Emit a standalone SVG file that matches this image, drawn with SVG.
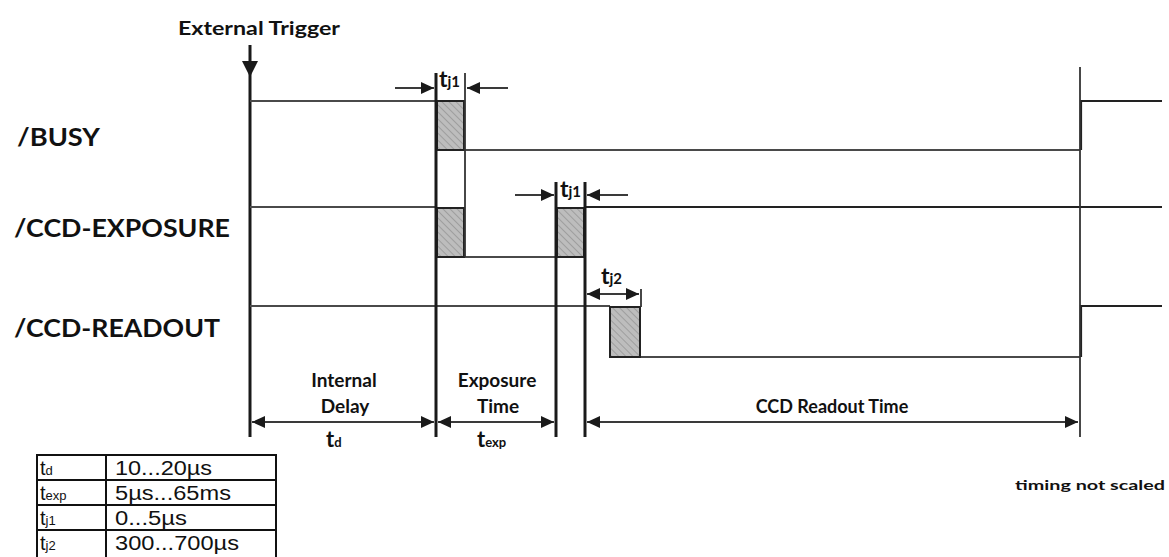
<svg xmlns="http://www.w3.org/2000/svg" width="1169" height="557" viewBox="0 0 1169 557">
<style>
.bg{fill:#fff}
.sig{stroke:#4a4a4a;stroke-width:2;fill:none}
.sigd{stroke:#222;stroke-width:2.2;fill:none}
.vl{stroke:#1a1a1a;stroke-width:3;fill:none}
.vt{stroke:#333;stroke-width:1.8;fill:none}
.dim{stroke:#3a3a3a;stroke-width:2;fill:none}
.hb{fill:url(#hatch);stroke:#222;stroke-width:2}
.lbl{font-family:Lato,"Open Sans","Liberation Sans",sans-serif;font-weight:bold;fill:#111}
.tj{font-family:Lato,"Liberation Sans",sans-serif;fill:#111;font-weight:bold}
.tab{font-family:"Liberation Sans",Arial,sans-serif;fill:#111}
.cell{fill:none;stroke:#111;stroke-width:2}
</style>
<defs>
<pattern id="hatch" patternUnits="userSpaceOnUse" width="5" height="5" patternTransform="rotate(-45)">
<rect width="5" height="5" fill="#bdbdbd"/>
<line x1="0" y1="0" x2="0" y2="5" stroke="#8a8a8a" stroke-width="1.2"/>
</pattern>
<marker id="ah" markerUnits="userSpaceOnUse" markerWidth="14" markerHeight="12" refX="13" refY="6" orient="auto-start-reverse">
<path d="M0,0 L13,6 L0,12 z" fill="#1a1a1a"/>
</marker>
</defs>
<rect class="bg" width="1169" height="557"/>

<g id="trigger">
<text class="lbl" x="178" y="35" font-size="19" textLength="162" lengthAdjust="spacingAndGlyphs">External Trigger</text>
<line class="vl" x1="250" y1="45" x2="250" y2="437"/>
<polygon points="242,61 258,61 250,77" fill="#1a1a1a"/>
</g>

<g id="labels">
<text class="lbl" x="17" y="146" font-size="25" textLength="83" lengthAdjust="spacingAndGlyphs">/BUSY</text>
<text class="lbl" x="14" y="237" font-size="25" textLength="216" lengthAdjust="spacingAndGlyphs">/CCD-EXPOSURE</text>
<text class="lbl" x="14" y="337" font-size="25" textLength="206" lengthAdjust="spacingAndGlyphs">/CCD-READOUT</text>
</g>

<g id="busy">
<line class="sig" x1="250" y1="101" x2="436" y2="101"/>
<rect class="hb" x="437" y="101" width="27" height="49"/>
<line class="sig" x1="465" y1="150" x2="1080" y2="150"/>
<polyline class="sigd" points="1081,150 1081,101 1162,101"/>
</g>

<g id="ccd-exposure">
<line class="sig" x1="250" y1="207" x2="436" y2="207"/>
<rect class="hb" x="437" y="208" width="27" height="49"/>
<line class="sig" x1="465" y1="257" x2="556" y2="257"/>
<rect class="hb" x="557" y="208" width="27" height="49"/>
<line class="sigd" x1="585" y1="207" x2="1162" y2="207"/>
</g>

<g id="ccd-readout">
<line class="sig" x1="250" y1="306" x2="610" y2="306"/>
<rect class="hb" x="610" y="307" width="30" height="50"/>
<line class="sig" x1="641" y1="357" x2="1080" y2="357"/>
<polyline class="sigd" points="1081,357 1081,306 1162,306"/>
</g>

<g id="connectors">
<line class="vl" x1="436" y1="73" x2="436" y2="437"/>
<line class="vt" x1="465" y1="73" x2="465" y2="257"/>
<line class="vl" x1="556" y1="182" x2="556" y2="437"/>
<line class="vl" x1="585" y1="182" x2="585" y2="437"/>
<line class="vt" x1="1080" y1="67" x2="1080" y2="437"/>
<line class="vt" x1="641" y1="289" x2="641" y2="307"/>
<line class="dim" x1="395" y1="88" x2="434" y2="88" marker-end="url(#ah)"/>
<line class="dim" x1="508" y1="88" x2="467" y2="88" marker-end="url(#ah)"/>
<line class="dim" x1="515" y1="195" x2="554" y2="195" marker-end="url(#ah)"/>
<line class="dim" x1="628" y1="195" x2="587" y2="195" marker-end="url(#ah)"/>
<line class="dim" x1="587" y1="294" x2="639" y2="294" marker-start="url(#ah)" marker-end="url(#ah)"/>
<line class="dim" x1="252" y1="422" x2="434" y2="422" marker-start="url(#ah)" marker-end="url(#ah)"/>
<line class="dim" x1="438" y1="422" x2="554" y2="422" marker-start="url(#ah)" marker-end="url(#ah)"/>
<line class="dim" x1="587" y1="422" x2="1078" y2="422" marker-start="url(#ah)" marker-end="url(#ah)"/>
</g>

<g id="jitter-labels">
<text class="tj" x="439" y="87" font-size="23">t<tspan font-size="15">j1</tspan></text>
<text class="tj" x="560" y="197" font-size="23">t<tspan font-size="15">j1</tspan></text>
<text class="tj" x="601" y="284" font-size="23">t<tspan font-size="15">j2</tspan></text>
</g>

<g id="interval-labels">
<text class="lbl" x="344" y="387" font-size="19" text-anchor="middle">Internal</text>
<text class="lbl" x="345" y="413" font-size="19" text-anchor="middle">Delay</text>
<text class="lbl" x="326" y="447" font-size="22">t<tspan font-size="13">d</tspan></text>
<text class="lbl" x="497" y="387" font-size="19" text-anchor="middle">Exposure</text>
<text class="lbl" x="498" y="413" font-size="19" text-anchor="middle">Time</text>
<text class="lbl" x="477" y="447" font-size="22">t<tspan font-size="13">exp</tspan></text>
<text class="lbl" x="832" y="413" font-size="18" text-anchor="middle">CCD Readout Time</text>
<text class="lbl" x="1015" y="490" font-size="14" textLength="150" lengthAdjust="spacingAndGlyphs">timing not scaled</text>
</g>

<g id="table">
<rect class="cell" x="37" y="455" width="239" height="120"/>
<line class="cell" x1="106" y1="455" x2="106" y2="575"/>
<line class="cell" x1="37" y1="480" x2="276" y2="480"/>
<line class="cell" x1="37" y1="505" x2="276" y2="505"/>
<line class="cell" x1="37" y1="530" x2="276" y2="530"/>
<text class="tab" x="40" y="475" font-size="20">t<tspan font-size="13">d</tspan></text>
<text class="tab" x="115" y="475" font-size="20" textLength="97" lengthAdjust="spacingAndGlyphs">10...20µs</text>
<text class="tab" x="40" y="500" font-size="20">t<tspan font-size="13">exp</tspan></text>
<text class="tab" x="115" y="500" font-size="20" textLength="116" lengthAdjust="spacingAndGlyphs">5µs...65ms</text>
<text class="tab" x="40" y="525" font-size="20">t<tspan font-size="13">j1</tspan></text>
<text class="tab" x="115" y="525" font-size="20" textLength="72" lengthAdjust="spacingAndGlyphs">0...5µs</text>
<text class="tab" x="40" y="550" font-size="20">t<tspan font-size="13">j2</tspan></text>
<text class="tab" x="115" y="550" font-size="20" textLength="124" lengthAdjust="spacingAndGlyphs">300...700µs</text>
</g>
</svg>
